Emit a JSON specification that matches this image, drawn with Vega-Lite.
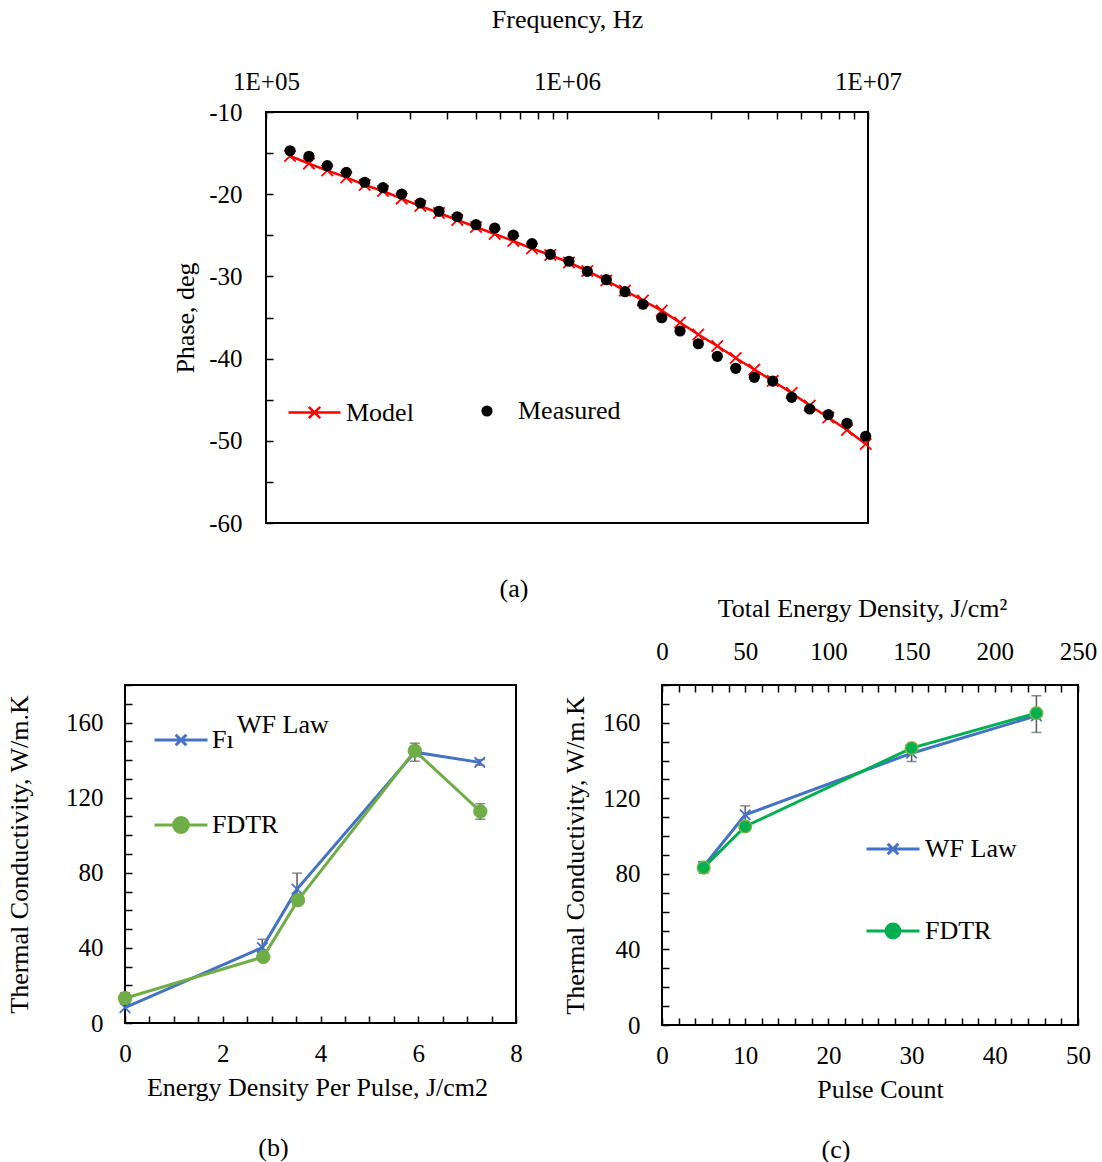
{
  "$schema": "https://vega.github.io/schema/vega-lite/v6.json",
  "background": "white",
  "padding": {"left": 5, "top": 5, "right": 0, "bottom": 0},
  "spacing": -9,
  "resolve": {"scale": {"stroke": "independent", "fill": "independent"}, "legend": {"stroke": "independent", "fill": "independent"}},
  "datasets": {
    "modelA": [
      {"freq": 120200, "phase": -15.35, "series": "Model"},
      {"freq": 138900, "phase": -16.27, "series": "Model"},
      {"freq": 159800, "phase": -17.12, "series": "Model"},
      {"freq": 184900, "phase": -17.96, "series": "Model"},
      {"freq": 212800, "phase": -18.88, "series": "Model"},
      {"freq": 244700, "phase": -19.61, "series": "Model"},
      {"freq": 282400, "phase": -20.53, "series": "Model"},
      {"freq": 325600, "phase": -21.44, "series": "Model"},
      {"freq": 375700, "phase": -22.29, "series": "Model"},
      {"freq": 432000, "phase": -23.14, "series": "Model"},
      {"freq": 498500, "phase": -23.99, "series": "Model"},
      {"freq": 575200, "phase": -24.84, "series": "Model"},
      {"freq": 663200, "phase": -25.69, "series": "Model"},
      {"freq": 765000, "phase": -26.61, "series": "Model"},
      {"freq": 880000, "phase": -27.40, "series": "Model"},
      {"freq": 1015000, "phase": -28.31, "series": "Model"},
      {"freq": 1168000, "phase": -29.34, "series": "Model"},
      {"freq": 1351000, "phase": -30.50, "series": "Model"},
      {"freq": 1558000, "phase": -31.72, "series": "Model"},
      {"freq": 1788000, "phase": -32.93, "series": "Model"},
      {"freq": 2064000, "phase": -34.17, "series": "Model"},
      {"freq": 2374000, "phase": -35.61, "series": "Model"},
      {"freq": 2731000, "phase": -37.07, "series": "Model"},
      {"freq": 3158000, "phase": -38.47, "series": "Model"},
      {"freq": 3635000, "phase": -39.93, "series": "Model"},
      {"freq": 4192000, "phase": -41.33, "series": "Model"},
      {"freq": 4824000, "phase": -42.72, "series": "Model"},
      {"freq": 5578000, "phase": -44.18, "series": "Model"},
      {"freq": 6403000, "phase": -45.71, "series": "Model"},
      {"freq": 7383000, "phase": -47.17, "series": "Model"},
      {"freq": 8516000, "phase": -48.69, "series": "Model"},
      {"freq": 9826000, "phase": -50.39, "series": "Model"}
    ],
    "measA": [
      {"freq": 120200, "phase": -14.71, "series": "Measured"},
      {"freq": 138900, "phase": -15.39, "series": "Measured"},
      {"freq": 159800, "phase": -16.53, "series": "Measured"},
      {"freq": 184900, "phase": -17.34, "series": "Measured"},
      {"freq": 212800, "phase": -18.55, "series": "Measured"},
      {"freq": 244700, "phase": -19.21, "series": "Measured"},
      {"freq": 282400, "phase": -19.98, "series": "Measured"},
      {"freq": 325600, "phase": -21.07, "series": "Measured"},
      {"freq": 375700, "phase": -22.08, "series": "Measured"},
      {"freq": 432000, "phase": -22.74, "series": "Measured"},
      {"freq": 498500, "phase": -23.71, "series": "Measured"},
      {"freq": 575200, "phase": -24.11, "series": "Measured"},
      {"freq": 663200, "phase": -24.96, "series": "Measured"},
      {"freq": 765000, "phase": -26.02, "series": "Measured"},
      {"freq": 880000, "phase": -27.31, "series": "Measured"},
      {"freq": 1015000, "phase": -28.16, "series": "Measured"},
      {"freq": 1168000, "phase": -29.38, "series": "Measured"},
      {"freq": 1351000, "phase": -30.40, "series": "Measured"},
      {"freq": 1558000, "phase": -31.86, "series": "Measured"},
      {"freq": 1788000, "phase": -33.39, "series": "Measured"},
      {"freq": 2064000, "phase": -35.03, "series": "Measured"},
      {"freq": 2374000, "phase": -36.64, "series": "Measured"},
      {"freq": 2731000, "phase": -38.19, "series": "Measured"},
      {"freq": 3158000, "phase": -39.72, "series": "Measured"},
      {"freq": 3635000, "phase": -41.18, "series": "Measured"},
      {"freq": 4192000, "phase": -42.28, "series": "Measured"},
      {"freq": 4824000, "phase": -42.73, "series": "Measured"},
      {"freq": 5578000, "phase": -44.71, "series": "Measured"},
      {"freq": 6403000, "phase": -46.13, "series": "Measured"},
      {"freq": 7383000, "phase": -46.82, "series": "Measured"},
      {"freq": 8516000, "phase": -47.87, "series": "Measured"},
      {"freq": 9826000, "phase": -49.45, "series": "Measured"}
    ],
    "kB": [
      {"series": "WF Law", "e": 0, "k": 8.2},
      {"series": "WF Law", "e": 2.81, "k": 40.2, "lo": 35.8, "hi": 44.6},
      {"series": "WF Law", "e": 3.52, "k": 71.3, "lo": 62.8, "hi": 79.8},
      {"series": "WF Law", "e": 5.93, "k": 144.2, "lo": 139.4, "hi": 149.0},
      {"series": "WF Law", "e": 7.26, "k": 138.8, "lo": 137.3, "hi": 140.3},
      {"series": "FDTR", "e": 0, "k": 13.2, "lo": 10.2, "hi": 16.2},
      {"series": "FDTR", "e": 2.83, "k": 35.2},
      {"series": "FDTR", "e": 3.54, "k": 65.4},
      {"series": "FDTR", "e": 5.93, "k": 145.0},
      {"series": "FDTR", "e": 7.27, "k": 112.7, "lo": 108.5, "hi": 116.8}
    ],
    "kC": [
      {"series": "WF Law", "p": 5, "energy": 25, "k": 83.9, "lo": 80.4, "hi": 86.5},
      {"series": "WF Law", "p": 10, "energy": 50, "k": 111.3, "lo": 106.6, "hi": 116.0},
      {"series": "WF Law", "p": 30, "energy": 150, "k": 143.9, "lo": 139.5, "hi": 148.3},
      {"series": "WF Law", "p": 45, "energy": 225, "k": 163.7},
      {"series": "FDTR", "p": 5, "energy": 25, "k": 83.3},
      {"series": "FDTR", "p": 10, "energy": 50, "k": 105.1},
      {"series": "FDTR", "p": 30, "energy": 150, "k": 146.6},
      {"series": "FDTR", "p": 45, "energy": 225, "k": 165.1, "lo": 154.9, "hi": 174.3}
    ]
  },
  "config": {
    "font": "Liberation Serif",
    "view": {"stroke": "black", "strokeWidth": 2},
    "axis": {
      "labelFont": "Liberation Serif", "labelFontSize": 25, "labelColor": "black",
      "titleFont": "Liberation Serif", "titleFontSize": 26, "titleFontWeight": "normal", "titleColor": "black",
      "domain": false, "grid": false, "tickColor": "black", "tickWidth": 1.5, "tickSize": -7,
      "labelPadding": 20, "labelFlush": false, "labelOverlap": false, "labelBound": false
    },
    "legend": {
      "labelFont": "Liberation Serif", "labelFontSize": 26, "labelColor": "black",
      "titleFont": "Liberation Serif", "titleFontSize": 26, "titleFontWeight": "normal", "titleColor": "black"
    },
    "title": {"font": "Liberation Serif", "fontSize": 26, "fontWeight": "normal", "color": "black"}
  },
  "vconcat": [
    {
      "spacing": 0,
      "resolve": {"scale": {"stroke": "independent", "fill": "independent"}, "legend": {"stroke": "independent", "fill": "independent"}},
      "hconcat": [
        {
          "width": 46, "height": 20,
          "view": {"stroke": null, "fill": "white"},
          "data": {"values": [{"a": 1}]},
          "mark": {"type": "point", "opacity": 0},
          "encoding": {}
        },
        {
          "width": 602, "height": 411,
          "title": {"text": "(a)", "orient": "bottom", "anchor": "middle", "dx": -53, "offset": 40, "frame": "group"},
          "resolve": {"scale": {"stroke": "independent", "fill": "independent"}, "legend": {"stroke": "independent", "fill": "independent"}},
          "encoding": {
            "x": {"field": "freq", "type": "quantitative",
              "scale": {"type": "log", "domain": [100000, 10000000], "nice": false},
              "axis": {"orient": "top", "title": "Frequency, Hz",
                "values": [100000, 200000, 300000, 400000, 500000, 600000, 700000, 800000, 900000, 1000000, 2000000, 3000000, 4000000, 5000000, 6000000, 7000000, 8000000, 9000000, 10000000],
                "labelExpr": "datum.value == 100000 ? '1E+05' : datum.value == 1000000 ? '1E+06' : datum.value == 10000000 ? '1E+07' : ''",
                "labelPadding": 25, "titlePadding": 37}},
            "y": {"field": "phase", "type": "quantitative",
              "scale": {"domain": [-60, -10], "nice": false},
              "axis": {"title": "Phase, deg",
                "values": [-60, -55, -50, -45, -40, -35, -30, -25, -20, -15, -10],
                "labelExpr": "datum.value % 10 == 0 ? '' + datum.value : ''",
                "labelPadding": 31, "titlePadding": 10}}
          },
          "layer": [
            {
              "data": {"name": "modelA"},
              "mark": {"type": "line", "strokeWidth": 2.5, "clip": false},
              "encoding": {
                "stroke": {"field": "series", "type": "nominal",
                  "scale": {"domain": ["Model"], "range": ["#ff0000"]},
                  "legend": {"title": null, "orient": "none", "legendX": 21, "legendY": 273,
                    "symbolType": "M-1,0H1M-0.22,-0.22L0.22,0.22M-0.22,0.22L0.22,-0.22",
                    "symbolSize": 2704, "symbolStrokeWidth": 2.5, "symbolFillColor": "transparent",
                    "symbolStrokeColor": "#ff0000", "labelOffset": 4}}
              }
            },
            {
              "data": {"name": "modelA"},
              "mark": {"type": "point", "shape": "M-1,-1L1,1M-1,1L1,-1", "filled": false, "size": 130, "strokeWidth": 1.8, "stroke": "#ff0000", "opacity": 1, "clip": false}
            },
            {
              "data": {"name": "measA"},
              "mark": {"type": "point", "shape": "circle", "filled": true, "size": 125, "opacity": 1, "clip": false},
              "encoding": {
                "fill": {"field": "series", "type": "nominal",
                  "scale": {"domain": ["Measured"], "range": ["#000000"]},
                  "legend": {"title": null, "orient": "none", "legendX": 208, "legendY": 286,
                    "symbolType": "circle", "symbolSize": 125, "labelOffset": 18}}
              }
            }
          ]
        }
      ]
    },
    {
      "spacing": 37,
      "hconcat": [
        {
          "width": 391, "height": 338,
          "title": {"text": "(b)", "orient": "bottom", "anchor": "middle", "dx": -47, "offset": 35, "frame": "group"},
          "data": {"name": "kB"},
          "encoding": {
            "x": {"field": "e", "type": "quantitative",
              "scale": {"domain": [0, 8], "nice": false},
              "axis": {"title": "Energy Density Per Pulse, J/cm2",
                "values": [0, 0.5, 1, 1.5, 2, 2.5, 3, 3.5, 4, 4.5, 5, 5.5, 6, 6.5, 7, 7.5, 8],
                "labelExpr": "datum.value % 2 == 0 ? '' + datum.value : ''",
                "labelPadding": 25, "titlePadding": 8, "titleX": 192}},
            "y": {"field": "k", "type": "quantitative",
              "scale": {"domain": [0, 180], "nice": false},
              "axis": {"title": "Thermal Conductivity,  W/m.K",
                "values": [0, 10, 20, 30, 40, 50, 60, 70, 80, 90, 100, 110, 120, 130, 140, 150, 160, 170, 180],
                "labelExpr": "datum.value % 40 == 0 ? '' + datum.value : ''",
                "labelPadding": 29, "titlePadding": 33}}
          },
          "resolve": {"scale": {"stroke": "independent"}, "legend": {"stroke": "independent"}},
          "layer": [
            {
              "transform": [{"filter": "isValid(datum.lo)"}],
              "mark": {"type": "errorbar", "color": "#595959", "thickness": 1.5, "ticks": {"size": 10, "thickness": 1.5, "color": "#595959"}},
              "encoding": {
                "y": {"field": "lo", "type": "quantitative", "title": "Thermal Conductivity,  W/m.K"},
                "y2": {"field": "hi"}
              }
            },
            {
              "transform": [{"filter": "datum.series == 'WF Law'"}],
              "layer": [
                {
                  "mark": {"type": "line", "strokeWidth": 3, "clip": false},
                  "encoding": {
                    "stroke": {"field": "series", "type": "nominal",
                      "scale": {"domain": ["WF Law"], "range": ["#4472C4"]},
                      "legend": {"title": "WF Law", "titleOrient": "right", "titleAnchor": "start", "titleBaseline": "top", "titlePadding": 3,
                        "labelExpr": "'Fı'",
                        "orient": "none", "legendX": 28, "legendY": 27,
                        "symbolType": "M-1,0H1M-0.2,-0.2L0.2,0.2M-0.2,0.2L0.2,-0.2",
                        "symbolSize": 2809, "symbolStrokeWidth": 3, "symbolFillColor": "transparent",
                        "symbolStrokeColor": "#4472C4", "labelOffset": 3}}
                  }
                },
                {
                  "mark": {"type": "point", "shape": "M-1,-1L1,1M-1,1L1,-1", "filled": false, "size": 110, "strokeWidth": 1.8, "stroke": "#4472C4", "opacity": 1, "clip": false}
                }
              ]
            },
            {
              "transform": [{"filter": "datum.series == 'FDTR'"}],
              "layer": [
                {
                  "mark": {"type": "line", "strokeWidth": 3, "clip": false},
                  "encoding": {
                    "stroke": {"field": "series", "type": "nominal",
                      "scale": {"domain": ["FDTR"], "range": ["#70AD47"]},
                      "legend": {"title": null,
                        "orient": "none", "legendX": 28, "legendY": 112,
                        "symbolType": "M-1,0H1M0.28,0A0.28,0.28 0 1,1 -0.28,0A0.28,0.28 0 1,1 0.28,0",
                        "symbolSize": 2809, "symbolStrokeWidth": 3, "symbolFillColor": "#70AD47",
                        "symbolStrokeColor": "#70AD47", "labelOffset": 3}}
                  }
                },
                {
                  "mark": {"type": "point", "shape": "circle", "filled": true, "size": 180, "fill": "#70AD47", "stroke": "#70AD47", "strokeWidth": 1, "opacity": 1, "clip": false}
                }
              ]
            }
          ]
        },
        {
          "width": 416, "height": 340,
          "title": {"text": "(c)", "orient": "bottom", "anchor": "middle", "dx": -34, "offset": 35, "frame": "group"},
          "data": {"name": "kC"},
          "resolve": {"scale": {"x": "independent"}, "axis": {"x": "independent"}},
          "layer": [
            {
              "encoding": {
                "x": {"field": "p", "type": "quantitative",
                  "scale": {"domain": [0, 50], "nice": false},
                  "axis": {"title": "Pulse Count", "orient": "bottom",
                    "values": [0, 2, 4, 6, 8, 10, 12, 14, 16, 18, 20, 22, 24, 26, 28, 30, 32, 34, 36, 38, 40, 42, 44, 46, 48, 50],
                    "labelExpr": "datum.value % 10 == 0 ? '' + datum.value : ''",
                    "labelPadding": 25, "titlePadding": 8, "titleX": 218}},
                "y": {"field": "k", "type": "quantitative",
                  "scale": {"domain": [0, 180], "nice": false},
                  "axis": {"title": "Thermal Conductivity,  W/m.K",
                    "values": [0, 10, 20, 30, 40, 50, 60, 70, 80, 90, 100, 110, 120, 130, 140, 150, 160, 170, 180],
                    "labelExpr": "datum.value % 40 == 0 ? '' + datum.value : ''",
                    "labelPadding": 29, "titlePadding": 14}}
              },
              "resolve": {"scale": {"stroke": "independent"}, "legend": {"stroke": "independent"}},
              "layer": [
                {
                  "transform": [{"filter": "isValid(datum.lo)"}],
                  "mark": {"type": "errorbar", "color": "#595959", "thickness": 1.5, "ticks": {"size": 10, "thickness": 1.5, "color": "#595959"}},
                  "encoding": {
                    "y": {"field": "lo", "type": "quantitative", "title": "Thermal Conductivity,  W/m.K"},
                    "y2": {"field": "hi"}
                  }
                },
                {
                  "transform": [{"filter": "datum.series == 'WF Law'"}],
                  "layer": [
                    {
                      "mark": {"type": "line", "strokeWidth": 3, "clip": false},
                      "encoding": {
                        "stroke": {"field": "series", "type": "nominal",
                          "scale": {"domain": ["WF Law"], "range": ["#4472C4"]},
                          "legend": {"title": null,
                            "orient": "none", "legendX": 203, "legendY": 136,
                            "symbolType": "M-1,0H1M-0.2,-0.2L0.2,0.2M-0.2,0.2L0.2,-0.2",
                            "symbolSize": 2809, "symbolStrokeWidth": 3, "symbolFillColor": "transparent",
                            "symbolStrokeColor": "#4472C4", "labelOffset": 4}}
                      }
                    },
                    {
                      "mark": {"type": "point", "shape": "M-1,-1L1,1M-1,1L1,-1", "filled": false, "size": 110, "strokeWidth": 1.8, "stroke": "#4472C4", "opacity": 1, "clip": false}
                    }
                  ]
                },
                {
                  "transform": [{"filter": "datum.series == 'FDTR'"}],
                  "layer": [
                    {
                      "mark": {"type": "line", "strokeWidth": 3, "clip": false},
                      "encoding": {
                        "stroke": {"field": "series", "type": "nominal",
                          "scale": {"domain": ["FDTR"], "range": ["#00B050"]},
                          "legend": {"title": null,
                            "orient": "none", "legendX": 203, "legendY": 218,
                            "symbolType": "M-1,0H1M0.26,0A0.26,0.26 0 1,1 -0.26,0A0.26,0.26 0 1,1 0.26,0",
                            "symbolSize": 2809, "symbolStrokeWidth": 3, "symbolFillColor": "#00B050",
                            "symbolStrokeColor": "#00B050", "labelOffset": 4}}
                      }
                    },
                    {
                      "mark": {"type": "point", "shape": "circle", "filled": true, "size": 160, "fill": "#00B050", "stroke": "#7DB442", "strokeWidth": 1.5, "opacity": 1, "clip": false}
                    }
                  ]
                }
              ]
            },
            {
              "mark": {"type": "point", "opacity": 0},
              "encoding": {
                "x": {"field": "energy", "type": "quantitative",
                  "scale": {"domain": [0, 250], "nice": false},
                  "axis": {"title": "Total Energy Density, J/cm²", "orient": "top",
                    "values": [0, 10, 20, 30, 40, 50, 60, 70, 80, 90, 100, 110, 120, 130, 140, 150, 160, 170, 180, 190, 200, 210, 220, 230, 240, 250],
                    "labelExpr": "datum.value % 50 == 0 ? '' + datum.value : ''",
                    "labelPadding": 28, "titlePadding": 18, "titleX": 200}}
              }
            }
          ]
        }
      ]
    }
  ]
}
